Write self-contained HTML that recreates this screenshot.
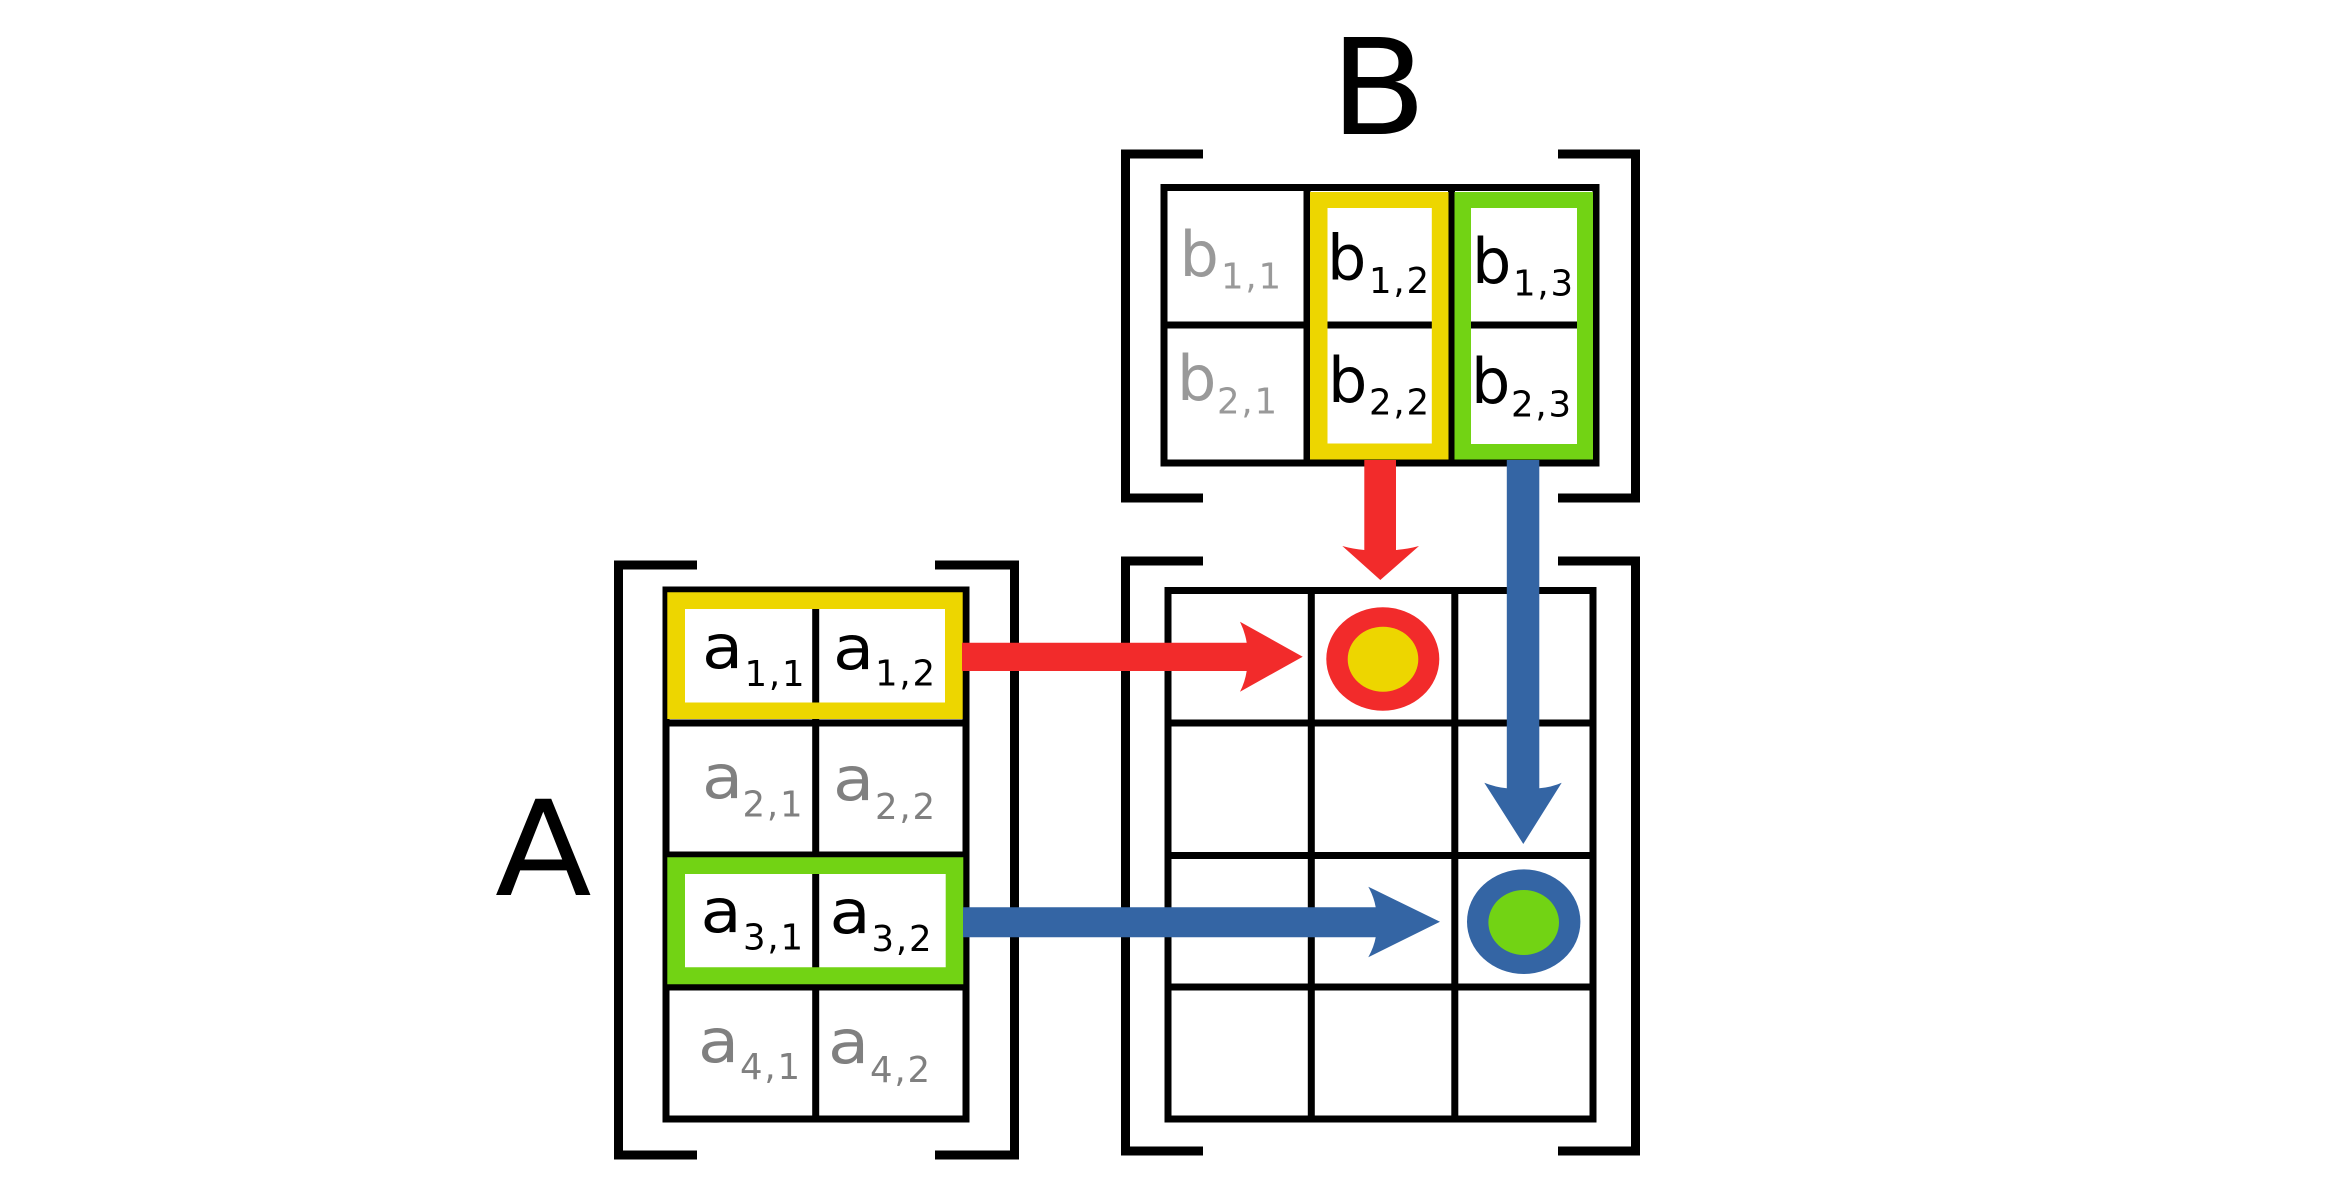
<!DOCTYPE html>
<html>
<head>
<meta charset="utf-8">
<style>
html,body{margin:0;padding:0;background:#fff;width:2352px;height:1180px;overflow:hidden}
svg{display:block}
text{font-family:"DejaVu Sans","Liberation Sans",sans-serif}
.m{font-size:62px}
.a{font-size:61px}
.s{font-size:35.500px;letter-spacing:1.800px}
.g1{fill:#999}
.g2{fill:#808080}
.br{fill:none;stroke:#000;stroke-width:9}
.gr{fill:none;stroke:#000;stroke-width:7}
</style>
</head>
<body>
<svg width="2352" height="1180" viewBox="0 0 2352 1180" xmlns="http://www.w3.org/2000/svg">
<rect width="2352" height="1180" fill="#fff"/>

<!-- Brackets -->
<path class="br" d="M1203 154H1125.500V498H1203M1558 154H1635.500V498H1558"/>
<path class="br" d="M1203 561H1125.500V1151H1203M1558 561H1635.500V1151H1558"/>
<path class="br" d="M697 565H618.500V1155H697M935 565H1014.500V1155H935"/>

<!-- Matrix B grid -->
<rect class="gr" x="1164" y="187.500" width="432" height="275.500"/>
<path class="gr" d="M1307 188V463M1451.500 188V463M1164 325H1596"/>
<!-- Matrix A grid -->
<rect class="gr" x="666" y="590" width="300" height="529"/>
<path class="gr" d="M815.700 590V1119M666 723H966M666 855H966M666 987H966"/>
<!-- Result grid -->
<rect class="gr" x="1168" y="590.500" width="425" height="528.500"/>
<path class="gr" d="M1311.300 590V1119M1454.800 590V1119M1168 723H1593M1168 855.500H1593M1168 987H1593"/>

<!-- Highlight frames -->
<path fill="#edd600" fill-rule="evenodd" d="M1310 192H1448.500V459.500H1310ZM1327.500 208V443.500H1431.800V208Z"/>
<path fill="#72d314" fill-rule="evenodd" d="M1454.500 192H1593V459.500H1454.500ZM1471 208V444H1577V208Z"/>
<path fill="#edd600" fill-rule="evenodd" d="M667.300 592.300H962.700V719H667.300ZM685 609V702.500H945V609Z"/>
<path fill="#72d314" fill-rule="evenodd" d="M667.300 857.300H963.300V984.300H667.300ZM685 874V967.300H945.700V874Z"/>

<!-- Letters -->
<text transform="translate(1330,134) scale(1.06,1)" font-size="133">B</text>
<text transform="translate(495,895) scale(1.07,1)" font-size="132">A</text>

<!-- b labels -->
<text class="m g1" x="1179.500" y="276">b</text><text class="s g1" x="1221" y="288.500">1,1</text>
<text class="m" x="1327" y="279.500">b</text><text class="s" x="1369" y="293">1,2</text>
<text class="m" x="1472" y="283">b</text><text class="s" x="1513" y="295.500">1,3</text>
<text class="m g1" x="1177" y="400">b</text><text class="s g1" x="1217" y="413.500">2,1</text>
<text class="m" x="1328" y="402">b</text><text class="s" x="1369" y="414.500">2,2</text>
<text class="m" x="1471" y="403">b</text><text class="s" x="1511" y="416.500">2,3</text>

<!-- a labels -->
<text class="a" transform="translate(702,668) scale(1.1,1)">a</text><text class="s" x="744.500" y="686">1,1</text>
<text class="a" transform="translate(833,669) scale(1.1,1)">a</text><text class="s" x="875" y="685.500">1,2</text>
<text class="a g2" transform="translate(702,798) scale(1.1,1)">a</text><text class="s g2" x="742.500" y="816.500">2,1</text>
<text class="a g2" transform="translate(833,800) scale(1.1,1)">a</text><text class="s g2" x="875" y="819">2,2</text>
<text class="a" transform="translate(700.500,932) scale(1.1,1)">a</text><text class="s" x="743" y="949.500">3,1</text>
<text class="a" transform="translate(829.500,933) scale(1.1,1)">a</text><text class="s" x="871.500" y="951">3,2</text>
<text class="a g2" transform="translate(698,1062) scale(1.1,1)">a</text><text class="s g2" x="740" y="1079">4,1</text>
<text class="a g2" transform="translate(828,1063) scale(1.1,1)">a</text><text class="s g2" x="870" y="1082">4,2</text>

<!-- Ellipses -->
<ellipse cx="1382.800" cy="659" rx="56.500" ry="51.700" fill="#f22b2b"/>
<ellipse cx="1383" cy="659.200" rx="35.300" ry="32.500" fill="#edd600"/>
<ellipse cx="1523.700" cy="921.700" rx="56.700" ry="52.300" fill="#3465a4"/>
<ellipse cx="1523.700" cy="922.500" rx="35.300" ry="32.500" fill="#72d314"/>

<!-- Arrows -->
<path fill="#f22b2b" d="M1364.300 460H1396V550Q1408 549 1419 546L1380.300 580L1342.300 546Q1353 549 1364.300 550Z"/>
<path fill="#3465a4" d="M1506.800 460H1539.300V788.300Q1552 787 1561.700 782.700L1523.300 844L1484.300 782.700Q1495 787 1506.800 788.300Z"/>
<path fill="#f22b2b" d="M962 642.700H1246.700Q1245 632 1240 621.700L1302.700 656.700L1240 691.700Q1245 682 1246.700 671H962Z"/>
<path fill="#3465a4" d="M963 907.300H1375.700Q1374 897 1368.300 886.700L1440 921.700L1368.300 957.300Q1374 947 1375.700 937.300H963Z"/>
</svg>
</body>
</html>
